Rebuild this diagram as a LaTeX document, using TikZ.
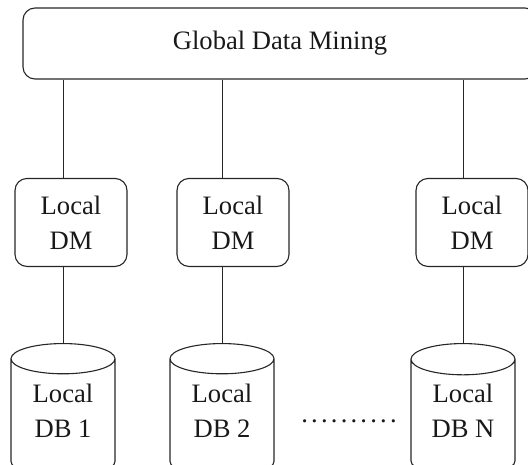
\documentclass[tikz,border=0pt]{standalone}
\usepackage{fontspec}
\setmainfont{Liberation Serif}
\usetikzlibrary{shapes.geometric}
\usetikzlibrary{positioning}

\begin{document}
\begin{tikzpicture}[x=1pt, y=1pt, -, thick,
	every node/.style={font=\fontsize{26.6}{35}\selectfont, text=black!90},
	global node/.style={draw=black!85, line width=1.1pt, rounded corners=12pt, minimum width=514pt, minimum height=71pt},
	dm node/.style={draw=black!85, line width=1.1pt, rounded corners=12pt, minimum width=112pt, minimum height=88pt, align=center},
	db node/.style={draw=black!85, line width=1.1pt, cylinder, shape border rotate=90, aspect=0.45, minimum width=104pt, minimum height=133pt, align=center, text depth=20pt, anchor=north},
  	link/.style={draw=black!85, line width=0.9pt}]

  \useasboundingbox (0,0) rectangle (528,-464);

  \node[global node] (global) at (280,-43.5) {Global Data Mining};

  \node[db node] (db1) at (63,-343) {Local\\DB 1};
  \node[db node] (db2) at (222,-343) {Local\\DB 2};
  \node[db node] (db3) at (463,-343) {Local\\DB N};

  \node[dm node] (dm1) [above=76pt of db1, xshift=8pt] {Local\\DM};
  \node[dm node] (dm2) [above=76pt of db2, xshift=11pt] {Local\\DM};
  \node[dm node] (dm3) [above=76pt of db3, xshift=9pt] {Local\\DM};

  \node[anchor=base west, inner sep=0pt] (dots) at (301,-422) {\foreach \k in {1,...,10}{.\kern3.2pt}};

  \path[link] (global.south -| db1.north) edge [] (dm1.north -| db1.north);
  \path[link] (global.south -| db2.north) edge [] (dm2.north -| db2.north);
  \path[link] (global.south -| db3.north) edge [] (dm3.north -| db3.north);
  \path[link] (dm1.south -| db1.north) edge [] (db1.north);
  \path[link] (dm2.south -| db2.north) edge [] (db2.north);
  \path[link] (dm3.south -| db3.north) edge [] (db3.north);
\end{tikzpicture}
\end{document}
